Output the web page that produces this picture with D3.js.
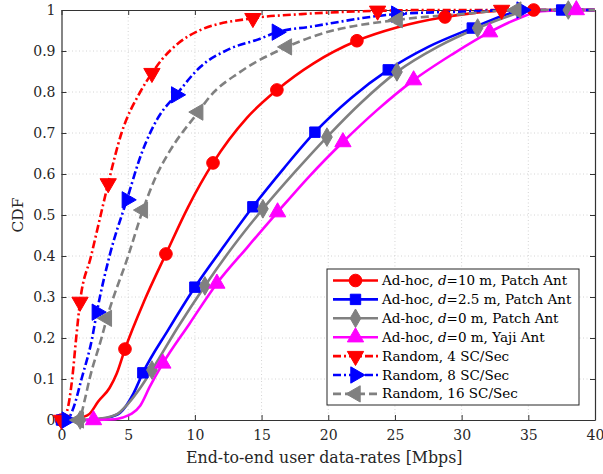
<!DOCTYPE html>
<html><head><meta charset="utf-8">
<script src="https://cdn.jsdelivr.net/npm/d3@7"></script>
<style>body{margin:0;background:#fff} svg{display:block}</style>
</head><body><svg id="c" width="603" height="474"></svg>
<script>
// ---------- data ----------
const xTicks = [0,5,10,15,20,25,30,35,40];
const xTickLabels = ["0","5","10","15","20","25","30","35","40"];
const yTicks = [0,0.1,0.2,0.3,0.4,0.5,0.6,0.7,0.8,0.9,1];
const yTickLabels = ["0","0.1","0.2","0.3","0.4","0.5","0.6","0.7","0.8","0.9","1"];
const xLabel = "End-to-end user data-rates [Mbps]";
const yLabel = "CDF";
const seriesNames = [
  "Ad-hoc, d=10 m, Patch Ant",
  "Ad-hoc, d=2.5 m, Patch Ant",
  "Ad-hoc, d=0 m, Patch Ant",
  "Ad-hoc, d=0 m, Yaji Ant",
  "Random, 4 SC/Sec",
  "Random, 8 SC/Sec",
  "Random, 16 SC/Sec"
];
const seriesColors = ["#ff0000","#0000ff","#808080","#ff00ff","#ff0000","#0000ff","#808080"];
const seriesMarkers = ["circle","square","diamond","triUp","triDown","triRight","triLeft"];
const seriesDash = ["solid","solid","solid","solid","dashdot","dashdot","dashed"];

const adhoc10X = [0,1.0,1.6,2.1,2.75,3.6,4.15,4.76,6.2,7.83,9.5,11.36,13.9,16.15,18.9,22.15,25.2,28.75,31,33.1,35.4,40];
const adhoc10Y = [0,0.002,0.007,0.015,0.045,0.078,0.114,0.173,0.29,0.405,0.52,0.627,0.737,0.805,0.87,0.925,0.958,0.983,0.993,0.999,1,1];
const adhoc10Marks = [0,7,9,11,13,15,17,20];

const adhoc25X = [0,2,3.4,4.4,5.4,6.1,8,10.0,12.2,14.35,16.7,19.0,21.7,24.5,27.5,30.8,33,34.5,37.5,40];
const adhoc25Y = [0,0,0.005,0.018,0.065,0.115,0.22,0.324,0.425,0.52,0.615,0.702,0.785,0.854,0.91,0.956,0.985,0.998,1,1];
const adhoc25Marks = [0,5,7,9,11,13,15,18];

const adhoc0X = [0,1.4,3,4.2,5.0,5.9,6.78,8.7,10.75,12.9,15.1,17.5,19.9,22.5,25.15,28.2,31.2,33.5,35,38,40];
const adhoc0Y = [0,0,0.004,0.015,0.04,0.078,0.122,0.225,0.327,0.425,0.515,0.605,0.69,0.775,0.849,0.91,0.956,0.985,0.998,1,1];
const adhoc0Marks = [1,6,8,10,12,14,16,19];

const yajiX = [0,2.4,4.0,4.6,5.9,6.6,7.6,9.6,11.65,13.9,16.2,18.6,21.1,23.7,26.4,29.3,32.1,34.3,36,38.6,40];
const yajiY = [0,0,0.002,0.006,0.035,0.08,0.138,0.235,0.333,0.42,0.507,0.595,0.678,0.757,0.829,0.892,0.946,0.98,0.997,1,1];
const yajiMarks = [1,6,8,10,12,14,16,19];

const rand4X = [0,0.4,0.8,1.1,1.39,2.22,2.94,3.5,4.5,5.9,6.78,7.5,8.8,10.4,14.35,18,23.7,28,33,40];
const rand4Y = [0,0.02,0.1,0.2,0.288,0.4,0.5,0.577,0.7,0.8,0.846,0.878,0.92,0.951,0.98,0.99,0.998,1,1,1];
const rand4Marks = [0,4,7,10,14,16,18];

const rand8X = [0,0.4,0.9,1.5,2.3,2.65,3.6,4.9,6.0,7.2,8.6,10.4,12.6,14.9,16.15,18.6,25.1,30,34.5,40];
const rand8Y = [0,0,0.03,0.1,0.2,0.263,0.4,0.537,0.65,0.735,0.793,0.861,0.905,0.93,0.946,0.959,0.99,0.996,1,1];
const rand8Marks = [1,5,7,10,14,16,18];

const rand16X = [0,1.3,1.75,2.1,3.0,3.4,5.0,6.1,7.1,8.1,10.25,11.1,13.4,16.9,19.2,25.2,30,34.1,40];
const rand16Y = [0,0,0.05,0.1,0.2,0.248,0.4,0.512,0.595,0.655,0.751,0.788,0.849,0.91,0.939,0.976,0.99,1,1];
const rand16Marks = [1,5,7,10,13,15,17];

const seriesX = [adhoc10X, adhoc25X, adhoc0X, yajiX, rand4X, rand8X, rand16X];
const seriesY = [adhoc10Y, adhoc25Y, adhoc0Y, yajiY, rand4Y, rand8Y, rand16Y];
const seriesMarks = [adhoc10Marks, adhoc25Marks, adhoc0Marks, yajiMarks, rand4Marks, rand8Marks, rand16Marks];

// ---------- drawing ----------
(function(){
const pL = 61.5, pR = 595, pT = 10, pB = 420;
const FONT = "'DejaVu Serif', serif";
const axisColor = "#333";
const textColor = "#262626";

const svg = d3.select("#c");
const x = d3.scaleLinear().domain([0,40]).range([pL,pR]);
const y = d3.scaleLinear().domain([0,1]).range([pB,pT]);

// grid
const grid = svg.append("g");
grid.selectAll(".gx").data(xTicks.slice(1,-1)).enter().append("line")
  .attr("x1",d=>x(d)).attr("x2",d=>x(d)).attr("y1",pT).attr("y2",pB)
  .attr("stroke","#d4d4d4").attr("stroke-width",1).attr("stroke-dasharray","1,2.5");
grid.selectAll(".gy").data(yTicks.slice(1,-1)).enter().append("line")
  .attr("y1",d=>y(d)).attr("y2",d=>y(d)).attr("x1",pL).attr("x2",pR)
  .attr("stroke","#d4d4d4").attr("stroke-width",1).attr("stroke-dasharray","1,2.5");

// axes
const tl = 5;
const gxB = svg.append("g").attr("transform",`translate(0,${pB})`)
  .call(d3.axisBottom(x).tickValues(xTicks).tickFormat((d,i)=>xTickLabels[i]).tickSizeInner(-tl).tickSizeOuter(0).tickPadding(10));
const gxT = svg.append("g").attr("transform",`translate(0,${pT})`)
  .call(d3.axisTop(x).tickValues(xTicks).tickFormat("").tickSizeInner(-tl).tickSizeOuter(0));
const gyL = svg.append("g").attr("transform",`translate(${pL},0)`)
  .call(d3.axisLeft(y).tickValues(yTicks).tickFormat((d,i)=>yTickLabels[i]).tickSizeInner(-tl).tickSizeOuter(0).tickPadding(6));
const gyR = svg.append("g").attr("transform",`translate(${pR},0)`)
  .call(d3.axisRight(y).tickValues(yTicks).tickFormat("").tickSizeInner(-tl).tickSizeOuter(0));
[gxB,gxT,gyL,gyR].forEach(g=>{
  g.select(".domain").attr("stroke",axisColor).attr("stroke-width",1.2);
  g.selectAll(".tick line").attr("stroke",axisColor).attr("stroke-width",1);
  g.selectAll("text").attr("font-family",FONT).attr("font-size",14).attr("fill",textColor);
});

// axis labels
svg.append("text").attr("x",(pL+pR)/2 - 4).attr("y",463).attr("text-anchor","middle")
  .attr("font-family",FONT).attr("font-size",15.8).attr("fill",textColor).text(xLabel);
svg.append("text").attr("transform",`translate(23,${(pT+pB)/2}) rotate(-90)`).attr("text-anchor","middle")
  .attr("font-family",FONT).attr("font-size",15.5).attr("fill",textColor).text(yLabel);

// markers
function markerPath(type){
  if(type==="circle") return d3.symbol(d3.symbolCircle, 125)();
  if(type==="square") return d3.symbol(d3.symbolSquare, 108)();
  if(type==="diamond") return d3.symbol(d3.symbolDiamond, 100)();
  return d3.symbol(d3.symbolTriangle, 115)();
}
function markerRot(type){
  return {triDown:180, triRight:90, triLeft:-90}[type] || 0;
}
const dashMap = {solid:null, dashdot:"8,3,2,3", dashed:"8,4"};

const line = d3.line().curve(d3.curveMonotoneX);
const plot = svg.append("g");
seriesNames.forEach((name,i)=>{
  const pts = seriesX[i].map((v,j)=>[x(v), y(seriesY[i][j])]);
  plot.append("path").attr("d",line(pts)).attr("fill","none")
    .attr("stroke",seriesColors[i]).attr("stroke-width",2.6)
    .attr("stroke-dasharray",dashMap[seriesDash[i]]);
});
seriesNames.forEach((name,i)=>{
  const pts = seriesX[i].map((v,j)=>[x(v), y(seriesY[i][j])]);
  plot.selectAll(null).data(seriesMarks[i]).enter().append("path")
    .attr("d",markerPath(seriesMarkers[i]))
    .attr("transform",k=>`translate(${pts[k][0]},${pts[k][1]}) rotate(${markerRot(seriesMarkers[i])})`)
    .attr("fill",seriesColors[i]).attr("stroke",seriesColors[i]).attr("stroke-width",1);
});

// legend
const lg = svg.append("g");
const lx0 = 327, ly0 = 269, lw = 252, lh = 136, rowH = 18.9;
lg.append("rect").attr("x",lx0).attr("y",ly0).attr("width",lw).attr("height",lh)
  .attr("fill","#fff").attr("stroke","#262626").attr("stroke-width",1);
seriesNames.forEach((name,i)=>{
  const cy = ly0 + 11.5 + i*rowH;
  lg.append("line").attr("x1",lx0+6).attr("x2",lx0+51).attr("y1",cy).attr("y2",cy)
    .attr("stroke",seriesColors[i]).attr("stroke-width",2.6)
    .attr("stroke-dasharray",dashMap[seriesDash[i]]);
  lg.append("path").attr("d",markerPath(seriesMarkers[i]))
    .attr("transform",`translate(${lx0+28.5},${cy}) rotate(${markerRot(seriesMarkers[i])})`)
    .attr("fill",seriesColors[i]).attr("stroke",seriesColors[i]);
  const t = lg.append("text").attr("x",lx0+55).attr("y",cy+4.5)
    .attr("font-family",FONT).attr("font-size",13.5).attr("fill","#000");
  const parts = name.split("d=");
  if(parts.length===2){
    t.append("tspan").text(parts[0]);
    t.append("tspan").attr("font-style","italic").text("d");
    t.append("tspan").text("="+parts[1]);
  } else t.text(name);
});
})();
</script>
</body></html>
